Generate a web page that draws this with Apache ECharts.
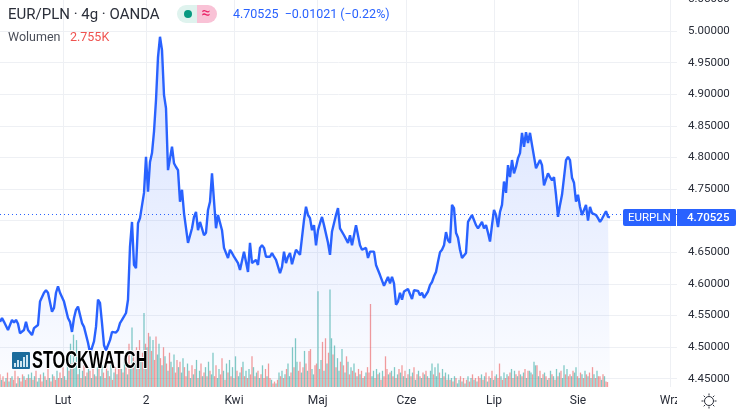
<!DOCTYPE html>
<html><head><meta charset="utf-8">
<script src="https://cdn.jsdelivr.net/npm/echarts@6/dist/echarts.min.js"></script>
<style>html,body{margin:0;padding:0;background:#fff}#c{width:738px;height:413px}</style>
</head><body><div id="c"></div>
<script>
// Trading-day positions of the time axis ticks and their labels
const tickDays = [15.75, 36.5, 58.5, 79.4, 101.6, 123.5, 144.5, 167.5];
const tickLabels = ['Lut', '2', 'Kwi', 'Maj', 'Cze', 'Lip', 'Sie', 'Wrz'];
const priceTicks = [4.45, 4.5, 4.55, 4.6, 4.65, 4.7, 4.75, 4.8, 4.85, 4.9, 4.95, 5.0, 5.05];
const lastPrice = 4.70525;
const daysPerPricePoint = 0.5;
const daysPerVolumeBar = 0.375;

// EUR/PLN close, one sample every half trading day
const closePrices = [
4.540,4.546,4.540,4.538,4.527,4.526,4.543,4.539,4.543,4.537,4.522,4.524,4.527,4.540,4.527,4.524,4.519,4.530,4.527,4.535,
4.572,4.570,4.586,4.590,4.586,4.589,4.556,4.562,4.586,4.596,4.586,4.586,4.572,4.572,4.546,4.540,4.524,4.546,4.559,4.564,
4.551,4.538,4.532,4.530,4.507,4.491,4.499,4.509,4.532,4.575,4.570,4.538,4.503,4.495,4.503,4.511,4.524,4.527,4.523,4.527,
4.538,4.543,4.540,4.554,4.575,4.659,4.698,4.630,4.625,4.696,4.704,4.706,4.744,4.801,4.746,4.793,4.807,4.841,4.891,4.959,
4.991,4.970,4.899,4.878,4.780,4.778,4.817,4.791,4.785,4.780,4.730,4.749,4.712,4.709,4.665,4.667,4.688,4.706,4.714,4.685,
4.698,4.696,4.677,4.681,4.717,4.730,4.775,4.778,4.688,4.709,4.712,4.685,4.657,4.654,4.641,4.654,4.649,4.643,4.638,4.633,
4.622,4.625,4.651,4.654,4.619,4.665,4.633,4.635,4.638,4.630,4.657,4.661,4.657,4.643,4.641,4.643,4.649,4.643,4.638,4.635,
4.617,4.627,4.651,4.633,4.643,4.649,4.631,4.643,4.654,4.657,4.646,4.643,4.701,4.722,4.709,4.704,4.685,4.693,4.661,4.685,
4.696,4.706,4.693,4.693,4.665,4.646,4.683,4.696,4.709,4.720,4.688,4.685,4.677,4.677,4.665,4.677,4.661,4.661,4.693,4.677,
4.661,4.654,4.651,4.657,4.641,4.651,4.649,4.651,4.630,4.627,4.614,4.611,4.597,4.597,4.611,4.601,4.611,4.601,4.567,4.572,
4.586,4.575,4.588,4.590,4.592,4.589,4.576,4.590,4.588,4.589,4.582,4.586,4.578,4.580,4.588,4.598,4.603,4.612,4.619,4.635,
4.650,4.654,4.661,4.682,4.669,4.665,4.725,4.720,4.681,4.673,4.654,4.641,4.638,4.649,4.698,4.701,4.709,4.707,4.693,4.688,
4.685,4.698,4.688,4.693,4.681,4.667,4.693,4.717,4.709,4.690,4.714,4.725,4.762,4.744,4.788,4.769,4.796,4.775,4.785,4.799,
4.807,4.839,4.817,4.840,4.823,4.839,4.820,4.817,4.783,4.782,4.796,4.788,4.756,4.758,4.775,4.769,4.764,4.769,4.741,4.706,
4.725,4.741,4.768,4.796,4.801,4.796,4.768,4.760,4.730,4.741,4.722,4.709,4.706,4.725,4.700,4.722,4.712,4.712,4.709,4.704,
4.698,4.703,4.706,4.715,4.706,4.70525];

// Volume in thousands; negative = down bar (red), positive = up bar (teal)
const signedVolumes = [
-7,4,-6,-3,5,-8,3,-5,6,-4,-9,2,-6,5,-3,-7,6,-4,-5,7,
-5,8,-4,6,-9,3,5,-7,-3,8,-6,4,-10,5,-3,7,-6,-4,9,-5,
-8,5,-11,6,-4,12,-9,24,-13,29,11,26,-7,14,-5,9,-12,6,-8,10,
-9,5,-14,7,-6,11,-16,6,12,-8,5,-13,9,-6,15,-4,8,-11,7,-10,
-13,10,-8,16,-11,7,-24,12,33,-20,14,-22,18,-26,15,-19,41,-24,22,-30,
28,-20,26,-15,-28,18,24,-16,12,-22,17,-13,9,-19,14,-11,18,-8,-15,11,
-14,8,16,-11,-6,13,-9,5,-12,7,-10,15,-5,9,-13,6,-8,11,-6,14,
-9,7,19,-6,-12,5,10,-7,-16,9,-4,13,-8,15,-6,11,-5,17,-9,6,
8,-11,14,-6,9,-5,10,-7,-17,11,-6,8,-9,5,-7,12,-5,-10,6,-13,
-5,4,-2,-3,2,-4,8,-6,9,-5,7,-10,13,6,-8,22,-11,27,14,-9,
-14,8,-11,20,-13,9,-20,-21,10,7,-12,-13,53,-10,15,-25,9,-27,13,-19,
54,27,-18,23,-11,16,9,-14,21,-12,8,-17,14,-7,11,-9,13,-8,6,-10,
7,-9,5,-6,8,-11,-8,-46,6,9,-5,10,-7,8,-4,9,-6,-17,-10,7,
-8,9,-6,11,-5,7,-10,8,-12,6,-9,5,-7,10,-6,8,-11,4,-7,9,
-6,5,-8,7,-9,6,-5,9,13,-7,11,6,13,-8,5,10,-6,8,-4,7,
-4,5,-3,6,-5,2,4,-6,3,-5,2,-4,6,-3,5,-7,4,-5,3,-6,
-5,7,-4,6,-8,3,-6,5,-9,4,-6,7,-5,-13,6,-4,8,-5,7,-6,
-8,10,-5,9,-7,6,-9,7,-6,8,-10,5,-9,9,8,-7,14,12,-12,6,
-9,5,-7,8,-6,4,-5,9,-7,6,-4,10,-6,8,-9,5,12,-7,10,-6,
-7,6,-9,8,11,-6,5,-8,7,-5,9,-7,6,-8,5,-11,7,-5,9,-6,
-6,4,-7,6,-3,-2.755];

const BLUE = '#2962ff', GRID = '#eef0f4', INK = '#2a2e39';
const FONT = 'Roboto, "Noto Sans", sans-serif';
const chart = echarts.init(document.getElementById('c'), null, {renderer: 'canvas'});

chart.setOption({
  animation: false,
  backgroundColor: '#fff',
  grid: {left: 0, right: 61, top: -1, bottom: 26, containLabel: false, outerBoundsMode: 'none'},
  xAxis: {
    type: 'value', min: 0, max: 169.25,
    axisLine: {show: false},
    axisTick: {show: false, customValues: tickDays},
    splitLine: {show: true, lineStyle: {color: GRID, width: 1}},
    axisLabel: {
      customValues: tickDays, margin: 8, color: INK, fontSize: 12, fontFamily: FONT,
      formatter: v => tickLabels[tickDays.indexOf(v)]
    }
  },
  yAxis: [{
    type: 'value', position: 'right', min: 4.43687, max: 5.0508,
    axisLine: {show: false},
    axisTick: {show: false, customValues: priceTicks},
    splitLine: {show: true, lineStyle: {color: GRID, width: 1}},
    axisLabel: {
      customValues: priceTicks, margin: 11, color: INK, fontSize: 11.5, fontFamily: FONT,
      padding: [2, 0, 0, 0],
      formatter: v => v.toFixed(5)
    }
  }, {
    type: 'value', min: 0, max: 215, show: false
  }],
  series: [{
    type: 'line',
    yAxisIndex: 0,
    z: 3,
    data: closePrices.map((v, i) => [i * daysPerPricePoint, v]),
    showSymbol: false,
    lineStyle: {color: BLUE, width: 2.4},
    itemStyle: {color: BLUE},
    areaStyle: {
      color: new echarts.graphic.LinearGradient(0, 0, 0, 1, [
        {offset: 0, color: 'rgba(41,98,255,0.28)'},
        {offset: 1, color: 'rgba(41,98,255,0.02)'}
      ])
    },
    markLine: {
      silent: true, symbol: 'none', label: {show: false},
      lineStyle: {color: BLUE, type: [1, 3], width: 1},
      data: [{yAxis: lastPrice}]
    }
  }, {
    type: 'bar',
    yAxisIndex: 1,
    z: 2,
    barWidth: 1.3,
    data: signedVolumes.map((v, i) => ({
      value: [i * daysPerVolumeBar, Math.abs(v)],
      itemStyle: {color: v < 0 ? 'rgba(239,83,80,0.58)' : 'rgba(38,166,154,0.58)'}
    }))
  }]
});

const priceY = chart.convertToPixel({yAxisIndex: 0}, lastPrice);
const T = (x, y, text, fill, size, extra) => ({
  type: 'text', z: 110, x, y,
  style: Object.assign({text, fill, font: size + 'px ' + FONT, textVerticalAlign: 'middle'}, extra || {})
});
const ray = (a) => ({
  type: 'line', z: 110,
  shape: {
    x1: 709 + 5.5 * Math.cos(a), y1: 401 + 5.5 * Math.sin(a),
    x2: 709 + 7.5 * Math.cos(a), y2: 401 + 7.5 * Math.sin(a)
  },
  style: {stroke: INK, lineWidth: 1}
});
const logoBars = [4, 7, 6, 10, 12];

chart.setOption({graphic: {elements: [
  // cover the clipped part of the last date label, as in the reference
  {type: 'rect', z: 100, shape: {x: 677, y: 388, width: 61, height: 25}, style: {fill: '#fff'}},
  T(8, 15, 'EUR/PLN · 4g · OANDA', INK, 15),
  {type: 'rect', z: 105, shape: {x: 177, y: 5, width: 20, height: 18, r: [9, 0, 0, 9]}, style: {fill: '#dff3ee'}},
  {type: 'rect', z: 105, shape: {x: 197, y: 5, width: 20, height: 18, r: [0, 9, 9, 0]}, style: {fill: '#f9c2d6'}},
  {type: 'circle', z: 110, shape: {cx: 188, cy: 14, r: 4}, style: {fill: '#089981'}},
  T(201.5, 14, '≈', '#e91e63', 16),
  T(233, 15, '4.70525  −0.01021 (−0.22%)', BLUE, 12.5),
  T(8, 38, 'Wolumen', '#4a4e59', 12.5),
  T(70, 38, '2.755K', '#ef5350', 12.5),
  // price line labels
  {type: 'rect', z: 105, shape: {x: 623, y: priceY - 8.5, width: 53, height: 17, r: [2, 0, 0, 2]}, style: {fill: BLUE}},
  {type: 'rect', z: 105, shape: {x: 677, y: priceY - 8.5, width: 59, height: 17, r: [0, 2, 2, 0]}, style: {fill: BLUE}},
  T(628, priceY + 0.5, 'EURPLN', '#fff', 11.5),
  T(687, priceY + 0.5, '4.70525', '#fff', 11.5, {font: '500 11.5px ' + FONT}),
  // settings sun icon
  {type: 'circle', z: 110, shape: {cx: 709, cy: 401, r: 4.5}, style: {fill: '#fff', stroke: INK, lineWidth: 1}},
  ...[0, 1, 2, 3, 4, 5, 6, 7].map(k => ray(k * Math.PI / 4)),
  // STOCKWATCH watermark
  {type: 'rect', z: 105, shape: {x: 12, y: 352, width: 18, height: 17, r: 1}, style: {fill: '#1c6c9c'}},
  ...logoBars.map((h, k) => ({
    type: 'rect', z: 106,
    shape: {x: 14 + k * 3, y: 367 - h, width: 2, height: h},
    style: {fill: '#cfe6f2'}
  })),
  {
    type: 'text', z: 110, x: 32, y: 361, scaleX: 0.68,
    style: {
      text: 'STOCKWATCH', fill: '#000', stroke: '#fff', lineWidth: 2,
      font: 'bold 24px "Liberation Sans Narrow", "Liberation Sans", sans-serif',
      textVerticalAlign: 'middle'
    }
  }
]}});
</script></body></html>
